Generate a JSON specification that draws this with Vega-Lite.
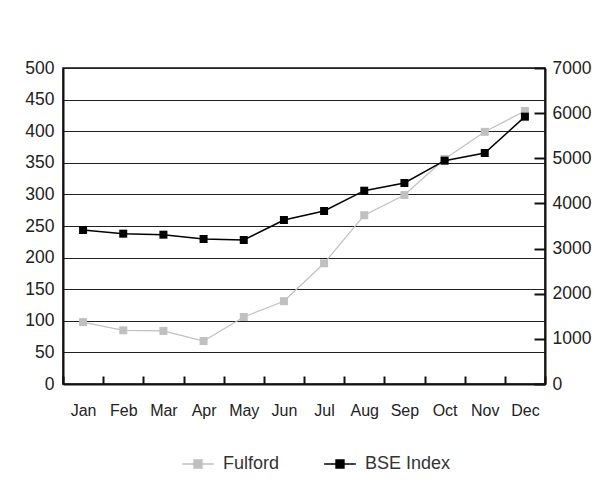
{
  "$schema": "https://vega.github.io/schema/vega-lite/v6.json",
  "width": 482,
  "height": 316,
  "autosize": {"type": "none"},
  "padding": {"left": 63, "top": 68, "right": 62, "bottom": 109},
  "background": "white",
  "config": {
    "font": "Liberation Sans",
    "view": {"stroke": "#111", "strokeWidth": 1.5},
    "axis": {"labelFont": "Liberation Sans", "labelColor": "#222", "titleFont": "Liberation Sans"},
    "legend": {"labelFont": "Liberation Sans"}
  },
  "data": {
    "values": [
      {"month": "Jan", "series": "Fulford", "value": 98},
      {"month": "Feb", "series": "Fulford", "value": 85},
      {"month": "Mar", "series": "Fulford", "value": 84},
      {"month": "Apr", "series": "Fulford", "value": 68},
      {"month": "May", "series": "Fulford", "value": 106},
      {"month": "Jun", "series": "Fulford", "value": 131},
      {"month": "Jul", "series": "Fulford", "value": 191},
      {"month": "Aug", "series": "Fulford", "value": 267},
      {"month": "Sep", "series": "Fulford", "value": 299},
      {"month": "Oct", "series": "Fulford", "value": 356},
      {"month": "Nov", "series": "Fulford", "value": 399},
      {"month": "Dec", "series": "Fulford", "value": 432},
      {"month": "Jan", "series": "BSE Index", "value": 3411},
      {"month": "Feb", "series": "BSE Index", "value": 3330},
      {"month": "Mar", "series": "BSE Index", "value": 3308},
      {"month": "Apr", "series": "BSE Index", "value": 3212},
      {"month": "May", "series": "BSE Index", "value": 3190},
      {"month": "Jun", "series": "BSE Index", "value": 3633},
      {"month": "Jul", "series": "BSE Index", "value": 3832},
      {"month": "Aug", "series": "BSE Index", "value": 4282},
      {"month": "Sep", "series": "BSE Index", "value": 4453},
      {"month": "Oct", "series": "BSE Index", "value": 4947},
      {"month": "Nov", "series": "BSE Index", "value": 5117},
      {"month": "Dec", "series": "BSE Index", "value": 5922}
    ]
  },
  "encoding": {
    "x": {
      "field": "month",
      "type": "ordinal",
      "sort": ["Jan","Feb","Mar","Apr","May","Jun","Jul","Aug","Sep","Oct","Nov","Dec"],
      "bandPosition": 0.5,
      "scale": {"type": "band", "paddingInner": 0, "paddingOuter": 0},
      "axis": {
        "title": null,
        "labelAngle": 0,
        "labelFontSize": 16,
        "tickBand": "extent",
        "tickSize": -8,
        "tickColor": "#111",
        "tickWidth": 2,
        "domainColor": "#111",
        "domainWidth": 2,
        "labelPadding": 26
      }
    },
    "color": {
      "field": "series",
      "type": "nominal",
      "scale": {"domain": ["Fulford", "BSE Index"], "range": ["#c0c0c0", "#000000"]},
      "legend": {
        "title": null,
        "orient": "none",
        "legendX": 118,
        "legendY": 379,
        "direction": "horizontal",
        "labelFontSize": 18,
        "labelColor": "#333",
        "labelOffset": 8,
        "columnPadding": 41,
        "symbolType": "M-1,0H1M-0.25,-0.25H0.25V0.25H-0.25Z",
        "symbolSize": 1000,
        "symbolStrokeWidth": 1.5,
        "symbolOpacity": 1,
        "encode": {
          "symbols": {
            "update": {
              "fill": {"signal": "datum.value === 'Fulford' ? '#8a8a8a' : '#000000'"},
              "stroke": {"scale": "color", "field": "value"}
            }
          }
        }
      }
    }
  },
  "layer": [
    {
      "transform": [{"filter": "datum.series === 'Fulford'"}],
      "mark": {"type": "line", "strokeWidth": 1.2, "point": {"shape": "square", "size": 64, "filled": true, "opacity": 1}},
      "encoding": {
        "y": {
          "field": "value",
          "type": "quantitative",
          "scale": {"domain": [0, 500], "nice": false},
          "axis": {
            "title": null,
            "orient": "left",
            "values": [0,50,100,150,200,250,300,350,400,450,500],
            "labelFontSize": 17.5,
            "ticks": false,
            "labelPadding": 9,
            "grid": true,
            "gridColor": "#222",
            "gridWidth": 1.2,
            "gridOpacity": 1,
            "domainColor": "#111",
            "domainWidth": 2
          }
        }
      }
    },
    {
      "transform": [{"filter": "datum.series === 'BSE Index'"}],
      "mark": {"type": "line", "strokeWidth": 1.5, "point": {"shape": "square", "size": 64, "filled": true, "opacity": 1}},
      "encoding": {
        "y": {
          "field": "value",
          "type": "quantitative",
          "scale": {"domain": [0, 7000], "nice": false},
          "axis": {
            "title": null,
            "orient": "right",
            "format": "d",
            "values": [0,1000,2000,3000,4000,5000,6000,7000],
            "labelFontSize": 17.5,
            "tickSize": -11,
            "tickColor": "#111",
            "tickWidth": 2,
            "labelPadding": 18,
            "grid": false,
            "domainColor": "#111",
            "domainWidth": 2
          }
        }
      }
    }
  ],
  "resolve": {"scale": {"y": "independent"}}
}
